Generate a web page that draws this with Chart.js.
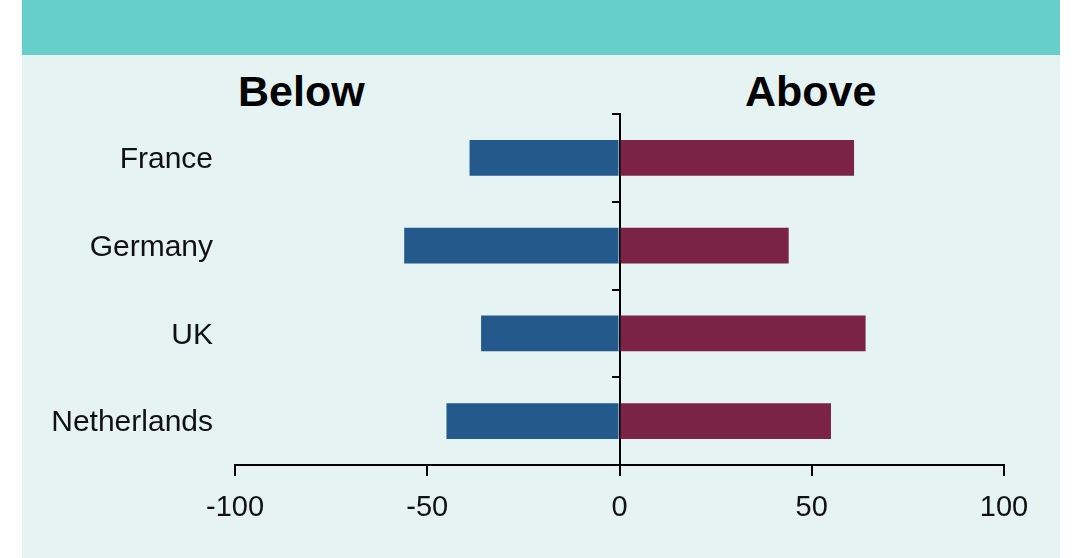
<!DOCTYPE html>
<html>
<head>
<meta charset="utf-8">
<script src="https://cdn.jsdelivr.net/npm/chart.js@4"></script>
<style>
  html, body { margin: 0; padding: 0; background: #ffffff; }
  #wrap { position: relative; width: 1081px; height: 558px; overflow: hidden; }
  #band { position: absolute; left: 22px; top: 0; width: 1038px; height: 55px; background: #66cfcb; }
  #panel { position: absolute; left: 22px; top: 55px; width: 1038px; height: 503px; background: #e5f3f2; }
  .side { position: absolute; top: 67px; font: bold 43px "Liberation Sans", Arial, sans-serif; color: #000; }
  canvas { position: absolute; left: 0; top: 0; }
</style>
</head>
<body>
<div id="wrap">
  <div id="band"></div>
  <div id="panel"></div>
  <div class="side" style="left:238px">Below</div>
  <div class="side" style="left:745px">Above</div>
  <canvas id="myChart" width="1081" height="558"></canvas>
</div>
<script>
// ---- donnees ----
const pays = ['France', 'Germany', 'UK', 'Netherlands'];
const dessous = [-39, -56, -36, -45];
const dessus = [61, 44, 64, 55];
const xTicks = [-100, -50, 0, 50, 100];

const police = { family: '"Liberation Sans", Arial, sans-serif', size: 29 };
const policeCat = { family: '"Liberation Sans", Arial, sans-serif', size: 30 };

const data = {
  labels: pays,
  datasets: [
    { label: 'Below', data: dessous, backgroundColor: '#245a8b', barPercentage: 0.41, categoryPercentage: 1, yAxisID: 'y' },
    { label: 'Above', data: dessus, backgroundColor: '#7a2346', barPercentage: 0.41, categoryPercentage: 1, yAxisID: 'y' }
  ]
};

const config = {
  type: 'bar',
  data: data,
  options: {
    indexAxis: 'y',
    responsive: false,
    animation: false,
    layout: { padding: { top: 114, right: 77, left: 0, bottom: 0 } },
    scales: {
      x: {
        type: 'linear',
        min: -100,
        max: 100,
        stacked: true,
        afterBuildTicks: (s) => { s.ticks = xTicks.map(v => ({ value: v })); },
        afterFit: (s) => { s.height = 93; },
        grid: { drawOnChartArea: false, drawTicks: true, tickLength: 11, color: '#000', lineWidth: 2 },
        border: { display: true, color: '#000', width: 2 },
        ticks: { color: '#111', font: police, padding: 15, maxRotation: 0 }
      },
      yl: {
        type: 'category',
        position: 'left',
        labels: pays,
        afterFit: (s) => { s.width = 235; },
        grid: { display: false },
        border: { display: false },
        ticks: { color: '#111', font: policeCat, padding: 14, labelOffset: 2 }
      },
      y: {
        type: 'category',
        position: { x: 0 },
        stacked: true,
        grid: { drawOnChartArea: false, offset: true, tickLength: 7, color: '#000', lineWidth: 2 },
        border: { display: true, color: '#000', width: 2 },
        ticks: { display: false }
      }
    },
    plugins: {
      legend: { display: false },
      tooltip: { enabled: false },
      title: { display: false }
    }
  }
};

const myChart = new Chart(document.getElementById('myChart').getContext('2d'), config);
</script>
</body>
</html>
